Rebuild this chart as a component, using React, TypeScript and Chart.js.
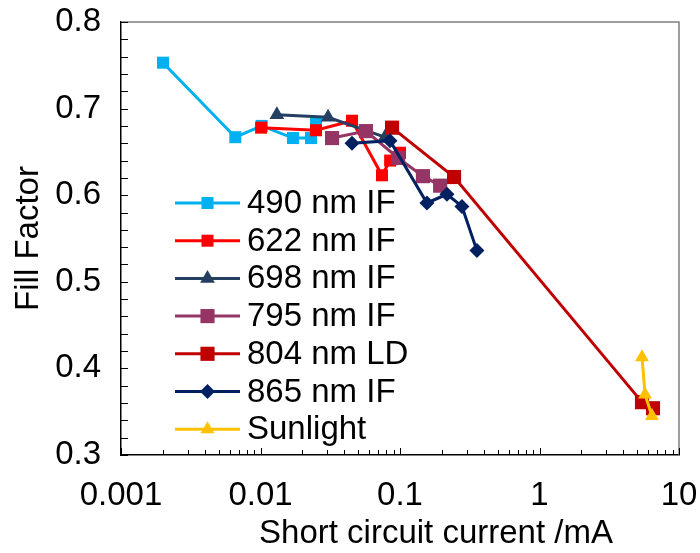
import React, { useEffect, useRef } from "react";
import { Chart, registerables } from "chart.js";

Chart.register(...registerables);

const seriesNames = ["490 nm IF", "622 nm IF", "698 nm IF", "795 nm IF", "804 nm LD", "865 nm IF", "Sunlight"];
const seriesColors = ["#00B0F0", "#FF0000", "#243F60", "#953565", "#C00000", "#002060", "#FFC000"];
const seriesMarkers = ["rect", "rect", "triangle", "rect", "rect", "rectRot", "triangle"];
const markerRadii = [8.5, 8.5, 8.5, 10, 10, 7.5, 8];

const x490 = [0.002, 0.0066, 0.0102, 0.0171, 0.023, 0.025];
const y490 = [0.753, 0.667, 0.68, 0.666, 0.666, 0.683];
const x622 = [0.0101, 0.025, 0.0453, 0.0743, 0.085, 0.1];
const y622 = [0.678, 0.675, 0.686, 0.623, 0.64, 0.649];
const x698 = [0.0131, 0.0305, 0.078];
const y698 = [0.693, 0.69, 0.667];
const x795 = [0.0326, 0.057, 0.097, 0.146, 0.194];
const y795 = [0.666, 0.674, 0.643, 0.622, 0.611];
const x804 = [0.0877, 0.244, 5.43, 6.51];
const y804 = [0.678, 0.621, 0.361, 0.354];
const x865 = [0.0453, 0.0848, 0.156, 0.217, 0.278, 0.356];
const y865 = [0.66, 0.663, 0.591, 0.601, 0.587, 0.536];
const xSun = [5.43, 5.71, 6.4];
const ySun = [0.413, 0.37, 0.345];

const seriesX = [x490, x622, x698, x795, x804, x865, xSun];
const seriesY = [y490, y622, y698, y795, y804, y865, ySun];

const xTickValues = [0.001, 0.01, 0.1, 1, 10];
const xTickLabels = ["0.001", "0.01", "0.1", "1", "10"];
const yTickValues = [0.3, 0.4, 0.5, 0.6, 0.7, 0.8];
const yTickLabels = ["0.3", "0.4", "0.5", "0.6", "0.7", "0.8"];
const xTitle = "Short circuit current /mA";
const yTitle = "Fill Factor";

const FONT = "'Liberation Sans', Arial, sans-serif";
const FS = 33;

function drawMarker(ctx: CanvasRenderingContext2D, style: string, r: number, x: number, y: number, color: string) {
  ctx.fillStyle = color;
  ctx.beginPath();
  if (style === "rect") {
    const s = r * Math.SQRT1_2;
    ctx.rect(x - s, y - s, 2 * s, 2 * s);
  } else if (style === "rectRot") {
    ctx.moveTo(x, y - r);
    ctx.lineTo(x + r, y);
    ctx.lineTo(x, y + r);
    ctx.lineTo(x - r, y);
    ctx.closePath();
  } else {
    ctx.moveTo(x, y - r);
    ctx.lineTo(x + r * 0.866, y + r * 0.5);
    ctx.lineTo(x - r * 0.866, y + r * 0.5);
    ctx.closePath();
  }
  ctx.fill();
}

const framePlugin = {
  id: "frame",
  beforeDatasetsDraw(chart: any) {
    const { ctx, chartArea: a, scales } = chart;
    const xs = scales.x;
    const ys = scales.y;
    ctx.save();
    ctx.strokeStyle = "#7f7f7f";
    ctx.lineWidth = 1.5;
    ctx.beginPath();
    ctx.moveTo(a.left, a.top);
    ctx.lineTo(a.right, a.top);
    ctx.lineTo(a.right, a.bottom);
    ctx.stroke();
    ctx.strokeStyle = "#000";
    ctx.lineWidth = 1;
    for (let i = 0; i <= 25; i++) {
      const v = 0.3 + i * 0.02;
      const py = Math.round(ys.getPixelForValue(v)) + 0.5;
      ctx.beginPath();
      ctx.moveTo(a.left, py);
      ctx.lineTo(a.left + 7, py);
      ctx.stroke();
    }
    for (let d = 0; d < xTickValues.length; d++) {
      const base = xTickValues[d];
      for (let m = 1; m <= 9; m++) {
        const v = base * m;
        if (v > 10.0001) break;
        const px = Math.round(xs.getPixelForValue(v)) + 0.5;
        const len = m === 1 ? 7 : 5;
        ctx.beginPath();
        ctx.moveTo(px, a.bottom);
        ctx.lineTo(px, a.bottom - len);
        ctx.stroke();
      }
    }
    ctx.restore();
  },
};

const legendPlugin = {
  id: "customLegend",
  afterDraw(chart: any) {
    const { ctx } = chart;
    ctx.save();
    const x0 = 175;
    const x1 = 240;
    const top = 203;
    const step = 37.7;
    chart.data.datasets.forEach((ds: any, i: number) => {
      const y = top + i * step;
      ctx.strokeStyle = ds.borderColor;
      ctx.lineWidth = 3;
      ctx.beginPath();
      ctx.moveTo(x0, y);
      ctx.lineTo(x1, y);
      ctx.stroke();
      drawMarker(ctx, ds.pointStyle, ds.pointRadius, (x0 + x1) / 2, y, ds.borderColor);
      ctx.fillStyle = "#000";
      ctx.font = `${FS}px ${FONT}`;
      ctx.textBaseline = "middle";
      ctx.textAlign = "left";
      ctx.fillText(ds.label, 247, y + 1);
    });
    // x-axis title (offset to the right as in the original)
    ctx.font = `${FS}px ${FONT}`;
    ctx.textAlign = "center";
    ctx.textBaseline = "alphabetic";
    ctx.fillText(xTitle, 436, 543);
    ctx.restore();
  },
};

export default function App() {
  const ref = useRef<HTMLCanvasElement>(null);
  useEffect(() => {
    if (!ref.current) return;
    const n = seriesNames.length;
    const datasets = seriesNames.map((name, i) => ({
      label: name,
      data: seriesX[i].map((x, j) => ({ x, y: seriesY[i][j] })),
      showLine: true,
      order: n - i,
      borderColor: seriesColors[i],
      backgroundColor: seriesColors[i],
      borderWidth: 3,
      pointStyle: seriesMarkers[i],
      pointRadius: markerRadii[i],
      pointBorderWidth: 0,
      pointBorderColor: seriesColors[i],
      pointBackgroundColor: seriesColors[i],
      tension: 0,
    }));
    const chart = new Chart(ref.current, {
      type: "scatter",
      data: { datasets },
      options: {
        animation: false,
        responsive: false,
        devicePixelRatio: 1,
        layout: { padding: { top: 22, right: 21, left: 0, bottom: 0 }, autoPadding: false },
        plugins: { legend: { display: false }, tooltip: { enabled: false } },
        scales: {
          x: {
            type: "logarithmic",
            min: 0.001,
            max: 10,
            afterBuildTicks: (s: any) => {
              s.ticks = xTickValues.map((v) => ({ value: v }));
            },
            afterFit: (s: any) => {
              s.height = 98;
              s.paddingLeft = 0;
              s.paddingRight = 0;
            },
            grid: { display: false, drawTicks: false },
            border: { display: true, color: "#000", width: 1.5 },
            ticks: {
              autoSkip: false,
              maxRotation: 0,
              padding: 21,
              color: "#000",
              font: { family: FONT, size: FS },
              callback: (_v: any, i: number) => xTickLabels[i],
            },
            title: { display: false },
          },
          y: {
            type: "linear",
            min: 0.3,
            max: 0.8,
            afterBuildTicks: (s: any) => {
              s.ticks = yTickValues.map((v) => ({ value: v }));
            },
            afterFit: (s: any) => {
              s.width = 121;
              s.paddingTop = 0;
              s.paddingBottom = 0;
            },
            grid: { display: false, drawTicks: false },
            border: { display: true, color: "#000", width: 1.5 },
            ticks: {
              padding: 20,
              color: "#000",
              font: { family: FONT, size: FS },
              callback: (_v: any, i: number) => yTickLabels[i],
            },
            title: {
              display: true,
              text: yTitle,
              color: "#000",
              font: { family: FONT, size: FS },
              padding: { top: 9, bottom: 0 },
            },
          },
        },
      },
      plugins: [framePlugin, legendPlugin],
    } as any);
    return () => chart.destroy();
  }, []);
  return (
    <div style={{ position: "absolute", left: 0, top: 0, width: 700, height: 553, background: "#fff" }}>
      <canvas ref={ref} width={700} height={553} style={{ width: 700, height: 553 }} />
    </div>
  );
}
